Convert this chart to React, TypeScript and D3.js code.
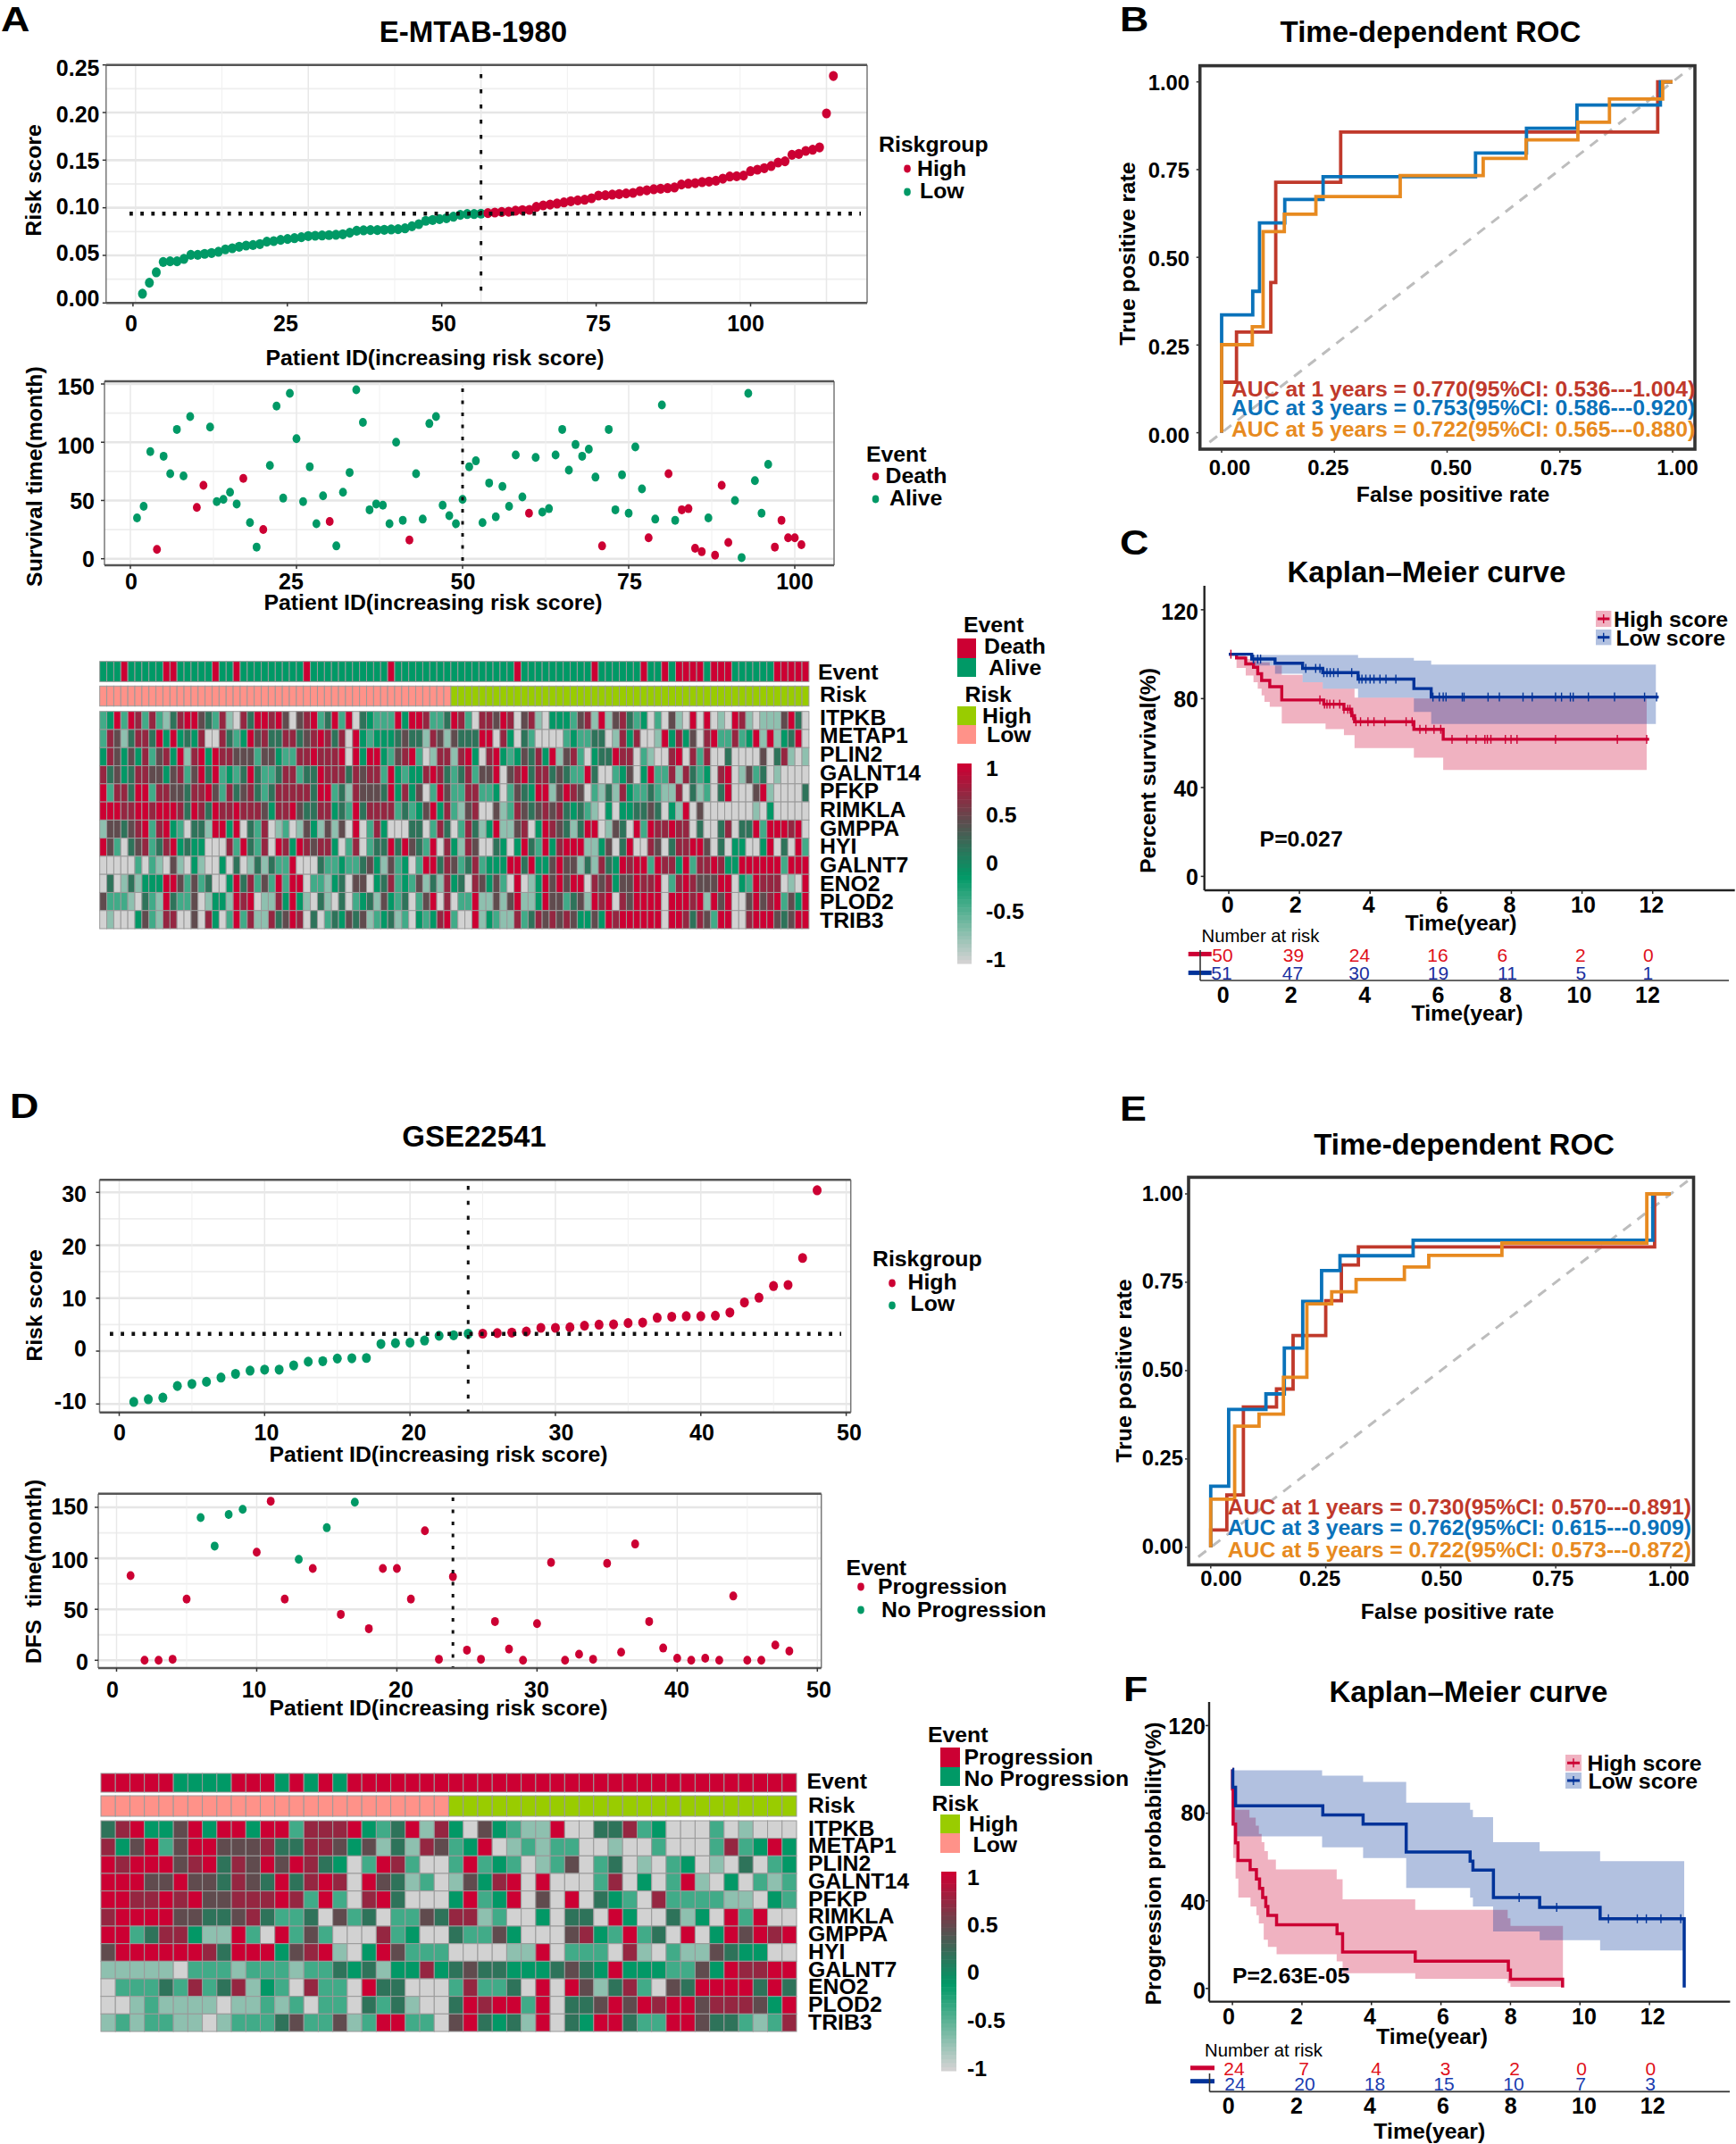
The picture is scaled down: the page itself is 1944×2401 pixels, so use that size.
import React from "react";
import * as d3 from "d3";

// ---------- DATA ----------
const aRiskScore = [0.0097,0.0213,0.0322,0.0431,0.0438,0.0438,0.0463,0.0506,0.0506,0.0516,0.0525,0.0538,0.0563,0.0575,0.0591,0.0603,0.0609,0.0619,0.0644,0.065,0.0663,0.0672,0.0681,0.0691,0.0703,0.0706,0.0709,0.0713,0.0716,0.0722,0.0738,0.0759,0.0763,0.0766,0.0766,0.0769,0.0772,0.0775,0.0784,0.0806,0.0828,0.0863,0.0872,0.0881,0.0891,0.0906,0.0925,0.0934,0.0934,0.0938,0.0944,0.095,0.0956,0.0959,0.0969,0.0975,0.0978,0.1009,0.1025,0.1034,0.1044,0.1056,0.1069,0.1078,0.1084,0.11,0.1128,0.1131,0.1138,0.1144,0.115,0.1156,0.1175,0.1184,0.1194,0.12,0.1206,0.1213,0.1244,0.1253,0.1259,0.1269,0.1275,0.1284,0.1306,0.1328,0.1331,0.1338,0.1384,0.14,0.1416,0.1438,0.1475,0.1488,0.1556,0.1566,0.1597,0.1609,0.1634,0.1991,0.2384];
const aSurvival = [35,45,92,8,88,73,111,71,122,44,63,113,49,51,57,47,69,31,10,25,80,131,52,142,103,49,79,30,54,32,11,57,74,145,117,42,47,46,30,100,33,16,73,34,116,122,46,37,30,51,79,84,31,65,36,62,45,89,53,39,87,40,43,89,111,76,98,88,94,70,11,111,42,72,39,96,60,18,34,132,73,33,42,43,9,6,35,3,63,14,50,1,142,67,39,81,10,33,18,18,12];
const aDeathIds = [4,10,11,17,20,30,42,60,71,78,81,83,84,85,86,88,89,90,97,98,99,100,101];
const dRiskScore = [-9.6,-9.1,-8.8,-6.6,-6.2,-5.8,-5,-4.3,-3.7,-3.5,-3.5,-2.7,-2,-1.9,-1.4,-1.35,-1.3,1.35,1.5,1.6,2,2.9,3,3.3,3.3,3.4,3.5,3.7,4.4,4.4,4.5,4.8,5,5.05,5.3,5.4,6.3,6.5,6.6,6.6,6.7,7.3,9.2,10.1,12.3,12.5,17.6,30.4];
const dDfs = [83,0,0,1,60,140,112,143,148,106,156,60,99,90,130,45,155,31,90,90,60,127,1,82,10,1,38,11,0,36,96,0,6,1,95,8,114,38,12,2,0,2,0,63,0,0,15,9];
const dNoProgressionIds = [6,7,8,9,13,15,17];

const genes = ["ITPKB","METAP1","PLIN2","GALNT14","PFKP","RIMKLA","GMPPA","HYI","GALNT7","ENO2","PLOD2","TRIB3"];
const LEVELS: Record<string, number> = { R: 1, D: 0.72, K: 0.45, E: 0.15, G: -0.12, M: -0.4, L: -0.72, W: -1 };
const aExpr = [
  "MGRMRDMDML EDRRKEMDLW DERRDRKWKD RMERMRWEGM MMRGRRDMME RDMWDDKRDW KDLWGGGMKD LRLKDEMGWM WKLWRWRWLW RDLWLLLKREW",
  "MDKLEDDERG RGEGDWWDEM GRKDEEDDEK DRDEDWRGMG GGEKEELDKL KEEERRWDGW EMWWWWMGMM EEWLDGDWWL RGDGKWDRMM DMGRLRLGERW",
  "GDKGKGDMKD GRLDRGRDDK KKMKKGMMDD RDDDRWRGRR GMKDRMWLDD LDRGWDRGMG KEDGRLKDMW GEERDDWMLW WDRWDMDWWE WWWWKWEDLWL",
  "DEKGEDDKKG KDMKRERMGM EREMMEDDME ERDDDEDKDD MRGMGGDRDE MEDMKKRWKD REDDEKEMMR EWWMGKWGRM MDLDEMGWDR WLKMEWLWWWW",
  "RMDDERRMDD KKEDDRKMDE KDEMEDDDDD ERRMELDKKK ERGDGKWMRK MMDDMMGWMK EGRRLKRDKW MLELDGMMEM LLDWELMWER WWWKRLWWWWE",
  "RRRDDRRDRR RDERDERDDR DDDKGDDRKE EDDGEMREDD DDMEMGKRGD MLKDWWKLMD KEKDKDEGEM LWGWGGEEKE WGLRWKWWWW WWWLWGWWWWW",
  "LKKEKDRMDR GMWEELRRGR WEMDWLMWLK GLKLKWRWMD GWWWEEWMDE WMDELGRLLK DWGRDKELER RWLKEWRMRD DRDDWEWWED WEERMRRRDRW",
  "RKMWEKDMED RGEGGWWWDM REMDWRDGRD KDDGWMDWME ERERKEMRWD GLDKWWEGWG REMRGDRRRL LGKWERWWDK WEDDRRKWEW GGWWGRWEWRM",
  "WWWWWMWMLW KLWGLWWGWE WLELEMMRWW WEMMGMMEKG LKMGWMRRED KMEDMGGGRR ERGGKRKKLE LDEGRDRRMR DDGRMDDRDG GRRRRRRMRRR",
  "WEWLELGGGR RKMKMEWWGR EDMKMRMRRW MMLGEWKKWG EDMGMKLELD GEWDKGKMWR WLGRKRKRRW DKDGKKRDDR WMDRDKKKRR WGMRDDDWLWR",
  "KMMMLWEMLR EMMKWLGGLR DRWLLDGRGL WELWEWMGEL KGMEWMKRWD WMMRLLKLKR LLGRKKMEKL RDRWDKRRRR WRRRDRLRKR WWKRKDRMKGR",
  "WLWWWGKMLD DWWKWDGWMR MDLLDEKRDW EWMEGKEKLM GELMWGMGDR MWWRLGMLLD MEDKDKDKGG KGRDRRRRRR WRRDEDKMRR WWDRRRKEKRR",
];
const dExpr = [
  "EDRGGKRGRRGRRMDDDRGMERLDGWKGMLLRWWEEDMGWWWMWLWWW",
  "DGKRMKRRKKKDEEDDKGKLELDKMGRWLMLMMWWLWWMWWWMDMGRG",
  "RDRRRKDREDKRKRDEGWMRDMWWMRMGMWLMKWMEWLWMGWLWEWMG",
  "RRRKKRKKEDKEREDRDWRKELMWLKGDRWRWWWMDWGWMRLWGWMLM",
  "RRDDRDRKKDDDRDMRMWDREWWWGRMGRWKWRWEGMWDMMMMLLWGM",
  "DRRRRKKEEKDEMMEWKMEWMMKEDDLMWWGWEEWRGWWELGWRMRWW",
  "RRMEDDGLLRMWRMKMWWWDMGWWEMMKGWWWKDGMRMEWRWGRKRDR",
  "KRRRRRRDERRRGKDRLWGRKMMMWWWWLLRWMMMWDLWMLLKEGGWW",
  "LLLLLWMMMLMMMLMMEGELGGDGEKEEGGGEKEGRGGGMMKGRDDRR",
  "WMMMEMDMEDLGMWDMMWREEWWWMDMMEWRWRKLEDMWKERRRRERE",
  "WWLMLLLLWLLMLMWMMWEMELWWERDRRMRWEEKRKRDRRKDDDKGR",
  "LMLMMLLWLMMMEKMMKLMRRMMWKREGELRWEGRREMMRRKEEMLMD",
];

const bRoc1fpr = [0,0,0.033,0.109,0.12,0.264,0.967,1];
const bRoc1tpr = [0,0.144,0.287,0.428,0.714,0.857,1,1];
const bRoc3fpr = [0,0,0.069,0.084,0.14,0.225,0.563,0.676,0.788,0.973,1];
const bRoc3tpr = [0,0.336,0.403,0.598,0.665,0.73,0.797,0.868,0.934,1,1];
const bRoc5fpr = [0,0,0.068,0.092,0.139,0.209,0.396,0.58,0.675,0.79,0.86,0.978,1];
const bRoc5tpr = [0,0.251,0.302,0.573,0.623,0.673,0.733,0.782,0.835,0.885,0.951,1,1];
const eRoc1fpr = [0,0,0.035,0.071,0.143,0.179,0.25,0.284,0.321,0.965,1];
const eRoc1tpr = [0,0.049,0.148,0.397,0.448,0.599,0.698,0.799,0.85,1,1];
const eRoc3fpr = [0,0,0.039,0.12,0.16,0.2,0.241,0.281,0.44,0.961,1];
const eRoc3tpr = [0,0.173,0.39,0.434,0.564,0.696,0.783,0.825,0.869,1,1];
const eRoc5fpr = [0,0,0.052,0.105,0.158,0.209,0.263,0.316,0.421,0.474,0.633,0.948,1];
const eRoc5tpr = [0,0.136,0.343,0.377,0.481,0.689,0.723,0.758,0.793,0.826,0.861,1,1];
const bAuc = ["AUC at 1 years = 0.770(95%CI: 0.536---1.004)","AUC at 3 years = 0.753(95%CI: 0.586---0.920)","AUC at 5 years = 0.722(95%CI: 0.565---0.880)"];
const eAuc = ["AUC at 1 years = 0.730(95%CI: 0.570---0.891)","AUC at 3 years = 0.762(95%CI: 0.615---0.909)","AUC at 5 years = 0.722(95%CI: 0.573---0.872)"];

type P = [number, number];
const cHigh: P[] = [[0,100],[0.22,98.3],[0.48,95.6],[0.7,94.1],[0.82,91.2],[0.93,88.2],[1.16,85.4],[1.5,79.4],[2.69,77.5],[3.26,75.2],[3.48,72.3],[3.56,69.6],[5.24,66.2],[6.07,61.7],[11.9,61.7]];
const cHighUp: P[] = [[0,100],[0.22,99.3],[0.48,97.8],[0.82,96.3],[1.16,94.9],[1.5,90.7],[2.09,87.4],[2.66,84.5],[3.56,80.4],[5.24,80],[11.83,80]];
const cHighLo: P[] = [[0,100],[0.22,93.8],[0.48,90.4],[0.7,87.4],[0.82,84.5],[0.93,81.5],[1.01,78.5],[1.16,76.3],[1.5,68.8],[2.74,66.3],[3.26,63.6],[3.56,57.7],[5.24,53.4],[6.07,47.9],[11.83,47.9]];
const cLow: P[] = [[0,100],[0.65,97.8],[1.31,95.9],[2.09,93.6],[2.66,91.7],[3.66,88.8],[5.24,84.5],[5.73,80.7],[12.17,80.7]];
const cLowUp: P[] = [[0,100],[0.65,99.6],[3.66,98.3],[5.24,97.1],[5.73,95.3],[12.09,95.3]];
const cLowLo: P[] = [[0,100],[0.65,94.9],[1.31,91.2],[2.09,87.4],[2.66,84.5],[3.66,80.4],[5.24,74],[5.73,68.6],[12.09,68.6]];
const cHighCens = [0.06,2.58,2.71,2.78,2.86,2.97,3.14,3.26,3.37,3.43,3.51,3.6,3.73,3.94,4.11,4.42,5.02,5.19,5.41,5.58,5.81,6,6.32,6.74,7,7.25,7.32,7.42,7.83,7.99,8.16,9.25,11,11.83];
const cLowCens = [0.7,0.82,0.9,2.18,2.46,2.58,2.69,2.78,2.87,2.97,3.09,3.48,3.69,3.77,3.88,4,4.11,4.28,4.45,4.73,5.78,5.96,6.07,6.15,6.61,6.66,7.34,7.66,8.33,8.59,9.25,9.42,9.67,9.75,10.18,10.92,11.77,12.11];
const cRiskHigh = [50,39,24,16,6,2,0];
const cRiskLow = [51,47,30,19,11,5,1];

const fHigh: P[] = [[0,100],[0.002,91],[0.02,75],[0.09,66.5],[0.16,58.4],[0.51,54.2],[0.69,50],[0.78,45.7],[0.87,41.5],[0.96,37.4],[1.02,33.3],[1.27,29.1],[3.01,25],[3.17,16.6],[5.26,12.5],[7.94,8.4],[8,4.2],[9.5,0.4]];
const fHighUp: P[] = [[0,94.4],[0.03,87.6],[0.09,81.6],[0.49,78],[0.67,74.3],[0.76,70.5],[0.84,66.8],[0.92,62.7],[1.02,58.8],[1.25,54.3],[3,49.9],[3.17,40.7],[5.26,35.9],[7.92,32],[8,28.6],[9.51,28.6]];
const fHighLo: P[] = [[0,94],[0.02,59.5],[0.09,50.2],[0.17,41.5],[0.52,37.4],[0.69,33.5],[0.76,29.7],[0.9,22.2],[1.02,19],[1.27,15.6],[3,12.4],[3.17,6.9],[5.26,4.4],[7.92,2.5],[8,0.7],[9.51,0.7]];
const fLow: P[] = [[0,100],[0.01,91.8],[0.09,83.4],[2.6,79.2],[3.76,75],[5,62.3],[6.84,58.1],[6.92,54],[7.51,41.5],[8.84,37],[10.58,31.8],[13,0.4]];
const fLowUp: P[] = [[0,99.6],[2.58,97.1],[3.76,94.3],[5,84.8],[6.84,81.6],[6.92,78.2],[7.5,66.8],[8.84,62.6],[10.58,58.1],[13,58.1]];
const fLowLo: P[] = [[0,99.6],[0.01,85],[0.05,75],[0.12,69.4],[2.58,64.4],[3.76,59.5],[5,45.9],[6.84,41.5],[6.92,37.4],[7.5,26],[8.84,22],[10.58,17.3],[13,17.3]];
const fLowCens = [8.25,9.33,10.82,11.65,11.91,12.33,12.9];
const fRiskHigh = [24,7,4,3,2,0,0];
const fRiskLow = [24,20,18,15,10,7,3];

const RED = "#CC0033", GREEN = "#009966", SALMON = "#FF9289", LIME = "#99CC00";
const ROC_RED = "#C0392B", ROC_BLUE = "#0A72BA", ROC_ORANGE = "#E78A20";
const KM_RED = "#CC0033", KM_BLUE = "#003399";
const FONT = "'Liberation Sans', Arial, sans-serif";

const heatColor = d3.scaleLinear<string>().domain([-1,-0.13,0.42,1]).range(["#d2d2d2",GREEN,"#5a4f4f",RED]);
const parseRow = (s: string) => s.replace(/\s/g,"").split("").map(c => LEVELS[c]);

function T({x,y,s=24.8,w=700,a="start",f="#000",r,children}: any) {
  const tr = r ? `rotate(${r} ${x} ${y})` : undefined;
  return <text x={x} y={y + 0.36*s} fontSize={s} fontWeight={w} textAnchor={a} fill={f} fontFamily={FONT} transform={tr} style={{whiteSpace:"pre"}}>{children}</text>;
}

function Letter({ x, base, children }: any) {
  return <text transform={`translate(${x} ${base}) scale(1.18 1)`} fontSize={38} fontWeight={700} fontFamily={FONT} fill="#000">{children}</text>;
}

function Scatter({ values, colorOf, x, y, tickX, box, xMaj, xMin, yMaj, yMin, rx, ry, hline, hExt, vline, vExt, vDash }: any) {
  return <g>
    {yMin.map((v:number)=> <line key={"a"+v} x1={box.l} x2={box.r} y1={y(v)} y2={y(v)} stroke="#eeeeee" strokeWidth={1.8}/>)}
    {yMaj.map((v:number)=> <line key={"b"+v} x1={box.l} x2={box.r} y1={y(v)} y2={y(v)} stroke="#e6e6e6" strokeWidth={2.6}/>)}
    {xMin.map((v:number)=> <line key={"c"+v} y1={box.t} y2={box.b} x1={x(v)} x2={x(v)} stroke="#f0f0f0" strokeWidth={1}/>)}
    {xMaj.map((v:number)=> <line key={"d"+v} y1={box.t} y2={box.b} x1={x(v)} x2={x(v)} stroke="#e8e8e8" strokeWidth={1.5}/>)}
    {values.map((v:number,i:number)=> <ellipse key={i} cx={x(i+1)} cy={y(v)} rx={rx} ry={ry} fill={colorOf(i+1)}/>)}
    {hline!==undefined && <line x1={hExt[0]} x2={hExt[1]} y1={y(hline)} y2={y(hline)} stroke="#111" strokeWidth={4.4} strokeDasharray="3.8 8.4"/>}
    <line x1={x(vline)} x2={x(vline)} y1={vExt[0]} y2={vExt[1]} stroke="#111" strokeWidth={3} strokeDasharray={vDash}/>
    <line x1={box.l} x2={box.l} y1={box.t} y2={box.b} stroke="#777" strokeWidth={1.5}/>
    <line x1={box.r} x2={box.r} y1={box.t} y2={box.b} stroke="#777" strokeWidth={1.5}/>
    <line x1={box.l} x2={box.r} y1={box.t} y2={box.t} stroke="#555" strokeWidth={2.4}/>
    <line x1={box.l} x2={box.r} y1={box.b} y2={box.b} stroke="#555" strokeWidth={2.4}/>
    {yMaj.map((v:number)=> <line key={"e"+v} x1={box.l-4} x2={box.l} y1={y(v)} y2={y(v)} stroke="#333" strokeWidth={1.5}/>)}
    {xMaj.map((v:number)=> <line key={"f"+v} x1={tickX(v)} x2={tickX(v)} y1={box.b} y2={box.b+4} stroke="#333" strokeWidth={1.5}/>)}
  </g>;
}

function Heat({ rows, event, split, l, r, evT, evB, rkT, rkB, hmT, hmB }: any) {
  const n = rows[0].length;
  const x = d3.scaleBand<number>().domain(d3.range(n)).range([l,r]);
  const y = d3.scaleBand<number>().domain(d3.range(rows.length)).range([hmT,hmB]);
  const sw = 1;
  return <g>
    {d3.range(n).map(i=> <rect key={"e"+i} x={x(i)} y={evT} width={x.bandwidth()} height={evB-evT} fill={event(i+1)} stroke="#9a9a9a" strokeWidth={sw}/>)}
    {d3.range(n).map(i=> <rect key={"r"+i} x={x(i)} y={rkT} width={x.bandwidth()} height={rkB-rkT} fill={i<split?SALMON:LIME} stroke="#9a9a9a" strokeWidth={sw}/>)}
    {rows.map((row:number[],j:number)=> row.map((v,i)=> <rect key={j+"-"+i} x={x(i)} y={y(j)} width={x.bandwidth()} height={y.bandwidth()} fill={heatColor(v)} stroke="#9a9a9a" strokeWidth={sw}/>))}
  </g>;
}

function ColorBar({ x0, x1, t, b, lx, ly }: any) {
  const bands = d3.range(50);
  const y = d3.scaleBand<number>().domain(bands).range([b,t]);
  const val = d3.scaleLinear().domain([0,49]).range([-1,1]);
  const labels = ["1","0.5","0","-0.5","-1"];
  return <g>
    {bands.map(i=> <rect key={i} x={x0} width={x1-x0} y={y(i)} height={y.bandwidth()+0.5} fill={heatColor(val(i))}/>)}
    {labels.map((s,i)=> <T key={s} x={lx} y={ly[i]}>{s}</T>)}
  </g>;
}

function Roc({ curves, x, y, box }: any) {
  const line = d3.line<P>().x(d=>x(d[0])).y(d=>y(d[1])).curve(d3.curveStepAfter);
  const ticks = [0,0.25,0.5,0.75,1];
  return <g>
    <line x1={x(-0.027)} y1={y(-0.027)} x2={x(1.042)} y2={y(1.042)} stroke="#bdbdbd" strokeWidth={3} strokeDasharray="11 9"/>
    {curves.map((c:any,i:number)=> <path key={i} d={line(d3.zip(c.fpr,c.tpr) as P[]) as string} fill="none" stroke={c.color} strokeWidth={3.8}/>)}
    <rect x={box.l} y={box.t} width={box.r-box.l} height={box.b-box.t} fill="none" stroke="#333" strokeWidth={3.6}/>
    {ticks.map(v=> <line key={"x"+v} x1={x(v)} x2={x(v)} y1={box.b} y2={box.b+4} stroke="#333" strokeWidth={1.5}/>)}
    {ticks.map(v=> <line key={"y"+v} x1={box.l-4} x2={box.l} y1={y(v)} y2={y(v)} stroke="#333" strokeWidth={1.5}/>)}
  </g>;
}

const stepAt = (arr: P[], t: number) => { let v = arr[0][1]; for (const p of arr) { if (p[0] <= t) v = p[1]; } return v; };

function Ci({ up, lo, x, y, fill }: any) {
  const ts: number[] = Array.from(new Set<number>([...up.map((p:P)=>p[0]),...lo.map((p:P)=>p[0])])).sort((a,b)=>a-b);
  const area = d3.area<number>().x(t=>x(t)).y0(t=>y(stepAt(lo,t))).y1(t=>y(stepAt(up,t))).curve(d3.curveStepAfter);
  return <path d={area(ts) as string} fill={fill} fillOpacity={0.3}/>;
}

function Km({ high, highUp, highLo, low, lowUp, lowLo, highCens, lowCens, x, y, sp, tickTs, yTicks, sw }: any) {
  const line = d3.line<P>().x(d=>x(d[0])).y(d=>y(d[1])).curve(d3.curveStepAfter);
  return <g>
    <Ci up={highUp} lo={highLo} x={x} y={y} fill={KM_RED}/>
    <Ci up={lowUp} lo={lowLo} x={x} y={y} fill={KM_BLUE}/>
    <path d={line(high) as string} fill="none" stroke={KM_RED} strokeWidth={sw}/>
    <path d={line(low) as string} fill="none" stroke={KM_BLUE} strokeWidth={sw}/>
    {highCens.map((t:number,i:number)=> <line key={"h"+i} x1={x(t)} x2={x(t)} y1={y(stepAt(high,t))-5} y2={y(stepAt(high,t))+5} stroke={KM_RED} strokeWidth={1.4}/>)}
    {lowCens.map((t:number,i:number)=> <line key={"l"+i} x1={x(t)} x2={x(t)} y1={y(stepAt(low,t))-5} y2={y(stepAt(low,t))+5} stroke={KM_BLUE} strokeWidth={1.4}/>)}
    <line x1={sp.l} x2={sp.l} y1={sp.t} y2={sp.b} stroke="#222" strokeWidth={2.4}/>
    <line x1={sp.l} x2={sp.r} y1={sp.b} y2={sp.b} stroke="#222" strokeWidth={2.4}/>
    {tickTs.map((t:number)=> <line key={"t"+t} x1={x(t)} x2={x(t)} y1={sp.b} y2={sp.b+4} stroke="#222" strokeWidth={1.5}/>)}
    {yTicks.map((v:number)=> <line key={"v"+v} x1={sp.l-4} x2={sp.l} y1={y(v)} y2={y(v)} stroke="#222" strokeWidth={1.5}/>)}
  </g>;
}

function KmLegendEntry({ x0, x1, t, b, color, label, lx }: any) {
  const cy = (t+b)/2;
  return <g>
    <rect x={x0} y={t} width={x1-x0} height={b-t} fill={color} fillOpacity={0.3}/>
    <line x1={x0+2} x2={x1-2} y1={cy} y2={cy} stroke={color} strokeWidth={3}/>
    <line x1={(x0+x1)/2} x2={(x0+x1)/2} y1={cy-5} y2={cy+5} stroke={color} strokeWidth={1.4}/>
    <T x={lx} y={cy}>{label}</T>
  </g>;
}

function RiskTable({ high, low, xsH, xsL, yH, yL, fh, fl }: any) {
  return <g>
    {high.map((v:number,i:number)=> <T key={"h"+i} x={xsH[i]} y={yH} a="middle" w={400} s={21} f={fh}>{v}</T>)}
    {low.map((v:number,i:number)=> <T key={"l"+i} x={xsL[i]} y={yL} a="middle" w={400} s={21} f={fl}>{v}</T>)}
  </g>;
}

export default function App() {
  const ids4 = [0,25,50,75,100];
  // A1
  const a1x = d3.scaleLinear().domain([0,100]).range([151.8,925.5]);
  const a1tick = d3.scaleLinear().domain([0,100]).range([148.9,840.5]);
  const a1y = d3.scaleLinear().domain([0,0.25]).range([339.3,72.7]);
  const aHighColor = (id:number) => id>50 ? RED : GREEN;
  // A2
  const a2x = d3.scaleLinear().domain([0,100]).range([146,890]);
  const a2y = d3.scaleLinear().domain([0,150]).range([625.7,430]);
  const aDeath = new Set(aDeathIds);
  const aEvColor = (id:number) => aDeath.has(id) ? RED : GREEN;
  // D1
  const d1x = d3.scaleLinear().domain([0,50]).range([133.5,947.6]);
  const d1y = d3.scaleLinear().domain([-10,30]).range([1572.3,1335.3]);
  const dHighColor = (id:number) => id>24 ? RED : GREEN;
  // D2
  const d2x = d3.scaleLinear().domain([0,50]).range([130.5,915.3]);
  const d2y = d3.scaleLinear().domain([0,150]).range([1859.3,1688]);
  const dNo = new Set(dNoProgressionIds);
  const dEvColor = (id:number) => dNo.has(id) ? GREEN : RED;
  // ROC
  const bx = d3.scaleLinear().domain([0,1]).range([1368,1873]);
  const by = d3.scaleLinear().domain([0,1]).range([484.6,91.7]);
  const ex = d3.scaleLinear().domain([0,1]).range([1355.8,1870.9]);
  const ey = d3.scaleLinear().domain([0,1]).range([1732.8,1337]);
  // KM
  const cx = d3.scaleLinear().domain([0,12]).range([1376,1850.7]);
  const cy = d3.scaleLinear().domain([0,100]).range([981.4,732.6]);
  const fx = d3.scaleLinear().domain([0,12]).range([1380.1,1847.1]);
  const fy = d3.scaleLinear().domain([0,100]).range([2226.8,1981.5]);
  const years = [0,2,4,6,8,10,12];
  const patient = "Patient ID(increasing risk score)";

  const aRows = aExpr.map(parseRow);
  const dRows = dExpr.map(parseRow);
  const aGeneY = d3.scalePoint<string>().domain(genes).range([802.7,1030]);
  const dGeneY = d3.scalePoint<string>().domain(genes).range([2046.7,2264]);

  const rocLab = ["1.00","0.75","0.50","0.25","0.00"];
  const xRoc = ["0.00","0.25","0.50","0.75","1.00"];
  const TITLE = 33;

  return <svg width={1944} height={2401} style={{position:"absolute",left:0,top:0,background:"#fff",display:"block"}} xmlns="http://www.w3.org/2000/svg">
    {/* panel letters */}
    <Letter x={1} base={35}>A</Letter>
    <Letter x={1254} base={35}>B</Letter>
    <Letter x={1254} base={621}>C</Letter>
    <Letter x={11} base={1252}>D</Letter>
    <Letter x={1254} base={1255}>E</Letter>
    <Letter x={1258} base={1905}>F</Letter>

    {/* A1 */}
    <T x={530} y={35} s={TITLE} a="middle">E-MTAB-1980</T>
    <Scatter values={aRiskScore} colorOf={aHighColor} x={a1x} y={a1y} tickX={a1tick} box={{l:118.8,r:971,t:72.7,b:339.3}} xMaj={ids4} xMin={[12.5,37.5,62.5,87.5]} yMaj={[0,0.05,0.1,0.15,0.2,0.25]} yMin={[0.025,0.075,0.125,0.175,0.225]} rx={5} ry={5.6} hline={0.0938} hExt={[145,964]} vline={50} vExt={[83,339]} vDash="4.5 12.5"/>
    {["0.25","0.20","0.15","0.10","0.05","0.00"].map((s,i)=> <T key={s} x={111.5} y={[76,128,180,231,283,334][i]} a="end" s={25}>{s}</T>)}
    {ids4.map((v,i)=> <T key={v} x={[147,320,497,670,835][i]} y={361.7} a="middle" s={25}>{v}</T>)}
    <T x={487} y={400} a="middle">{patient}</T>
    <T x={37} y={202} a="middle" r={-90}>Risk score</T>
    <T x={984} y={161}>Riskgroup</T>
    <ellipse cx={1016} cy={189} rx={3.8} ry={4.4} fill={RED}/><T x={1027} y={188}>High</T>
    <ellipse cx={1016} cy={215} rx={3.8} ry={4.4} fill={GREEN}/><T x={1030} y={213}>Low</T>

    {/* A2 */}
    <Scatter values={aSurvival} colorOf={aEvColor} x={a2x} y={a2y} tickX={a2x} box={{l:117,r:934,t:427,b:633}} xMaj={ids4} xMin={[12.5,37.5,62.5,87.5]} yMaj={[0,50,100,150]} yMin={[25,75,125]} rx={4.4} ry={5} vline={50} vExt={[435,632]} vDash="4 9.5"/>
    {["150","100","50","0"].map((s,i)=> <T key={s} x={106} y={[433,499,561,625.7][i]} a="end" s={25}>{s}</T>)}
    {ids4.map((v,i)=> <T key={v} x={[147,326,518.5,705,890][i]} y={650.7} a="middle" s={25}>{v}</T>)}
    <T x={485} y={674} a="middle">{patient}</T>
    <T x={38} y={533.6} a="middle" r={-90}>Survival time(month)</T>
    <T x={970} y={508}>Event</T>
    <ellipse cx={980.5} cy={533.7} rx={3.8} ry={4.4} fill={RED}/><T x={991.5} y={532}>Death</T>
    <ellipse cx={980.5} cy={559} rx={3.8} ry={4.4} fill={GREEN}/><T x={996} y={557}>Alive</T>

    {/* A heat */}
    <Heat rows={aRows} event={aEvColor} split={50} l={111.7} r={905.9} evT={740.7} evB={763.3} rkT={768.3} rkB={790.7} hmT={796.7} hmB={1040}/>
    <T x={916} y={752}>Event</T>
    <T x={918} y={777}>Risk</T>
    {genes.map(g=> <T key={g} x={918} y={aGeneY(g)}>{g}</T>)}
    <T x={1079} y={699}>Event</T>
    <rect x={1072} y={715} width={21} height={22} fill={RED}/><rect x={1072} y={737} width={21} height={21} fill={GREEN}/>
    <T x={1102} y={723}>Death</T><T x={1107} y={747}>Alive</T>
    <T x={1080.5} y={777}>Risk</T>
    <rect x={1072} y={791} width={21} height={21} fill={LIME}/><rect x={1072} y={812} width={21} height={21} fill={SALMON}/>
    <T x={1100} y={801}>High</T><T x={1105} y={822}>Low</T>
    <ColorBar x0={1072} x1={1088} t={855} b={1079} lx={1104} ly={[860,912,966,1020,1074]}/>

    {/* B */}
    <T x={1602} y={35} s={TITLE} a="middle">Time-dependent ROC</T>
    <Roc x={bx} y={by} box={{l:1343.7,r:1898,t:73.6,b:503}} curves={[{fpr:bRoc1fpr,tpr:bRoc1tpr,color:ROC_RED},{fpr:bRoc3fpr,tpr:bRoc3tpr,color:ROC_BLUE},{fpr:bRoc5fpr,tpr:bRoc5tpr,color:ROC_ORANGE}]}/>
    {rocLab.map((s,i)=> <T key={s} x={1332} y={[92.5,190.5,289,388,487.6][i]} a="end" s={23.8}>{s}</T>)}
    {xRoc.map((s,i)=> <T key={s} x={[1377,1487.4,1625,1748,1878.5][i]} y={523.5} a="middle" s={23.8}>{s}</T>)}
    <T x={1627} y={553} a="middle">False positive rate</T>
    <T x={1262.5} y={284} a="middle" r={-90}>True positive rate</T>
    {bAuc.map((s,i)=> <T key={s} x={1379} y={[434.7,456,480][i]} s={24.75} f={[ROC_RED,ROC_BLUE,ROC_ORANGE][i]}>{s}</T>)}

    {/* C */}
    <T x={1597.4} y={640} s={TITLE} a="middle">Kaplan–Meier curve</T>
    <Km high={cHigh} highUp={cHighUp} highLo={cHighLo} low={cLow} lowUp={cLowUp} lowLo={cLowLo} highCens={cHighCens} lowCens={cLowCens} x={cx} y={cy} sp={{l:1348.7,t:656,b:997,r:1942.7}} tickTs={years} yTicks={[0,40,80,120]} sw={3.4}/>
    {["120","80","40","0"].map((s,i)=> <T key={s} x={1342} y={[685,783,883,982][i]} a="end" s={25}>{s}</T>)}
    {years.map((v,i)=> <T key={v} x={[1374.7,1450.6,1532.8,1615,1690.4,1773,1849.3][i]} y={1013} a="middle" s={25}>{v}</T>)}
    <T x={1636} y={1033} a="middle">Time(year)</T>
    <T x={1285} y={863} a="middle" r={-90}>Percent survival(%)</T>
    <T x={1410.6} y={939}>P=0.027</T>
    <KmLegendEntry x0={1787} x1={1804.4} t={684} b={702} color={KM_RED} label="High score" lx={1807}/>
    <KmLegendEntry x0={1787} x1={1804.4} t={705} b={722.4} color={KM_BLUE} label="Low score" lx={1809.4}/>
    <T x={1345.5} y={1047.6} w={400} s={20.3}>Number at risk</T>
    <RiskTable high={cRiskHigh} low={cRiskLow} xsH={[1368.9,1448.4,1522.4,1610,1682.3,1769.9,1845.8]} xsL={[1368,1447.5,1522,1610.4,1688,1770.3,1845.3]} yH={1069} yL={1089.4} fh="#E0101A" fl="#1A2FA0"/>
    <line x1={1330.7} x2={1356.7} y1={1068.4} y2={1068.4} stroke={KM_RED} strokeWidth={5}/>
    <line x1={1330.7} x2={1356.7} y1={1089.4} y2={1089.4} stroke={KM_BLUE} strokeWidth={5}/>
    <line x1={1344} x2={1344} y1={1064} y2={1098} stroke="#333" strokeWidth={1.6}/>
    <line x1={1344} x2={1936} y1={1098} y2={1098} stroke="#333" strokeWidth={1.6}/>
    {years.map((v,i)=> <T key={v} x={[1369.8,1445.7,1528.3,1610.4,1686,1768.5,1844.9][i]} y={1113.5} a="middle" s={25}>{v}</T>)}
    <T x={1643} y={1134} a="middle">Time(year)</T>

    {/* D1 */}
    <T x={531} y={1272} s={TITLE} a="middle">GSE22541</T>
    <Scatter values={dRiskScore} colorOf={dHighColor} x={d1x} y={d1y} tickX={d1x} box={{l:111.5,r:952.7,t:1321.3,b:1581.7}} xMaj={[0,10,20,30,40,50]} xMin={[5,15,25,35,45]} yMaj={[-10,0,10,20,30]} yMin={[-5,5,15,25]} rx={5} ry={5.6} hline={3.26} hExt={[123,942]} vline={24} vExt={[1328,1581]} vDash="4.5 12.2"/>
    {["30","20","10","0","-10"].map((s,i)=> <T key={s} x={97} y={[1337,1396,1454,1510,1569][i]} a="end" s={25}>{s}</T>)}
    {[0,10,20,30,40,50].map((v,i)=> <T key={v} x={[134,298.5,463.5,628.5,786,951][i]} y={1604} a="middle" s={25}>{v}</T>)}
    <T x={491} y={1628} a="middle">{patient}</T>
    <T x={38} y={1462} a="middle" r={-90}>Risk score</T>
    <T x={977} y={1409}>Riskgroup</T>
    <ellipse cx={999} cy={1437} rx={3.8} ry={4.4} fill={RED}/><T x={1016.5} y={1435}>High</T>
    <ellipse cx={999} cy={1462} rx={3.8} ry={4.4} fill={GREEN}/><T x={1019.5} y={1459}>Low</T>

    {/* D2 */}
    <Scatter values={dDfs} colorOf={dEvColor} x={d2x} y={d2y} tickX={d2x} box={{l:110,r:919.7,t:1672.7,b:1868}} xMaj={[0,10,20,30,40,50]} xMin={[5,15,25,35,45]} yMaj={[0,50,100,150]} yMin={[25,75,125]} rx={4.4} ry={5} vline={24} vExt={[1677,1868]} vDash="4 9.5"/>
    {["150","100","50","0"].map((s,i)=> <T key={s} x={99} y={[1687,1747,1803,1861][i]} a="end" s={25}>{s}</T>)}
    {[0,10,20,30,40,50].map((v,i)=> <T key={v} x={[126,284.6,449,601,758,917][i]} y={1892} a="middle" s={25}>{v}</T>)}
    <T x={491} y={1912} a="middle">{patient}</T>
    <T x={36.7} y={1760} a="middle" r={-90}>{"DFS  time(month)"}</T>
    <T x={947.6} y={1755}>Event</T>
    <ellipse cx={964} cy={1777} rx={3.8} ry={4.4} fill={RED}/><T x={983} y={1776}>Progression</T>
    <ellipse cx={964} cy={1803} rx={3.8} ry={4.4} fill={GREEN}/><T x={987} y={1802}>No Progression</T>

    {/* D heat */}
    <Heat rows={dRows} event={dEvColor} split={24} l={113} r={892} evT={1986} evB={2007} rkT={2011} rkB={2034} hmT={2039} hmB={2275}/>
    <T x={903.5} y={1994}>Event</T>
    <T x={905} y={2021}>Risk</T>
    {genes.map(g=> <T key={g} x={905} y={dGeneY(g)}>{g}</T>)}
    <T x={1039} y={1942}>Event</T>
    <rect x={1053} y={1957} width={22} height={22} fill={RED}/><rect x={1053} y={1979} width={22} height={21} fill={GREEN}/>
    <T x={1079.5} y={1967}>Progression</T><T x={1079.5} y={1991}>No Progression</T>
    <T x={1043.5} y={2019}>Risk</T>
    <rect x={1053} y={2032} width={22} height={21} fill={LIME}/><rect x={1053} y={2053} width={22} height={22} fill={SALMON}/>
    <T x={1085} y={2042}>High</T><T x={1089.5} y={2065}>Low</T>
    <ColorBar x0={1054} x1={1071} t={2096} b={2319} lx={1083} ly={[2102,2155,2208,2262,2316]}/>

    {/* E */}
    <T x={1639.6} y={1280.7} s={TITLE} a="middle">Time-dependent ROC</T>
    <Roc x={ex} y={ey} box={{l:1331,r:1896.5,t:1318.4,b:1752.4}} curves={[{fpr:eRoc1fpr,tpr:eRoc1tpr,color:ROC_RED},{fpr:eRoc3fpr,tpr:eRoc3tpr,color:ROC_BLUE},{fpr:eRoc5fpr,tpr:eRoc5tpr,color:ROC_ORANGE}]}/>
    {rocLab.map((s,i)=> <T key={s} x={1325} y={[1336,1434,1533,1632,1731][i]} a="end" s={23.8}>{s}</T>)}
    {xRoc.map((s,i)=> <T key={s} x={[1367.5,1478,1614.5,1739,1868.7][i]} y={1767} a="middle" s={23.8}>{s}</T>)}
    <T x={1632} y={1804} a="middle">False positive rate</T>
    <T x={1258} y={1535} a="middle" r={-90}>True positive rate</T>
    {eAuc.map((s,i)=> <T key={s} x={1374.7} y={[1686.6,1710,1734.6][i]} s={24.75} f={[ROC_RED,ROC_BLUE,ROC_ORANGE][i]}>{s}</T>)}

    {/* F */}
    <T x={1644.4} y={1894.5} s={TITLE} a="middle">Kaplan–Meier curve</T>
    <Km high={fHigh} highUp={fHighUp} highLo={fHighLo} low={fLow} lowUp={fLowUp} lowLo={fLowLo} highCens={[]} lowCens={fLowCens} x={fx} y={fy} sp={{l:1354,t:1906,b:2241.6,r:1937.4}} tickTs={years} yTicks={[0,40,80,120]} sw={3.5}/>
    {["120","80","40","0"].map((s,i)=> <T key={s} x={1350} y={[1932.5,2030,2130,2228.5][i]} a="end" s={25}>{s}</T>)}
    {years.map((v,i)=> <T key={v} x={[1376,1452,1534,1616,1691.7,1774,1850.7][i]} y={2258} a="middle" s={25}>{v}</T>)}
    <T x={1603.5} y={2279.6} a="middle">Time(year)</T>
    <T x={1290.7} y={2087} a="middle" r={-90}>Progression probability(%)</T>
    <T x={1380} y={2212}>P=2.63E-05</T>
    <KmLegendEntry x0={1753} x1={1771} t={1965} b={1983.5} color={KM_RED} label="High score" lx={1777.5}/>
    <KmLegendEntry x0={1753} x1={1771} t={1985} b={2003} color={KM_BLUE} label="Low score" lx={1778.4}/>
    <T x={1349} y={2296} w={400} s={20.3}>Number at risk</T>
    <RiskTable high={fRiskHigh} low={fRiskLow} xsH={[1382,1460,1541,1618.5,1696,1771,1848.4]} xsL={[1383,1461,1539.5,1617,1695,1770,1848]} yH={2316} yL={2333.4} fh="#E0101A" fl="#1A3CAF"/>
    <line x1={1333} x2={1360} y1={2315.8} y2={2315.8} stroke={KM_RED} strokeWidth={5}/>
    <line x1={1333} x2={1360} y1={2330.7} y2={2330.7} stroke={KM_BLUE} strokeWidth={5}/>
    <line x1={1354.5} x2={1354.5} y1={2322} y2={2342.4} stroke="#333" strokeWidth={1.6}/>
    <line x1={1354.5} x2={1937} y1={2342.4} y2={2342.4} stroke="#333" strokeWidth={1.6}/>
    {years.map((v,i)=> <T key={v} x={[1375.6,1452,1534,1616,1691.7,1774,1850.7][i]} y={2358} a="middle" s={25}>{v}</T>)}
    <T x={1600.8} y={2386} a="middle">Time(year)</T>
  </svg>;
}
